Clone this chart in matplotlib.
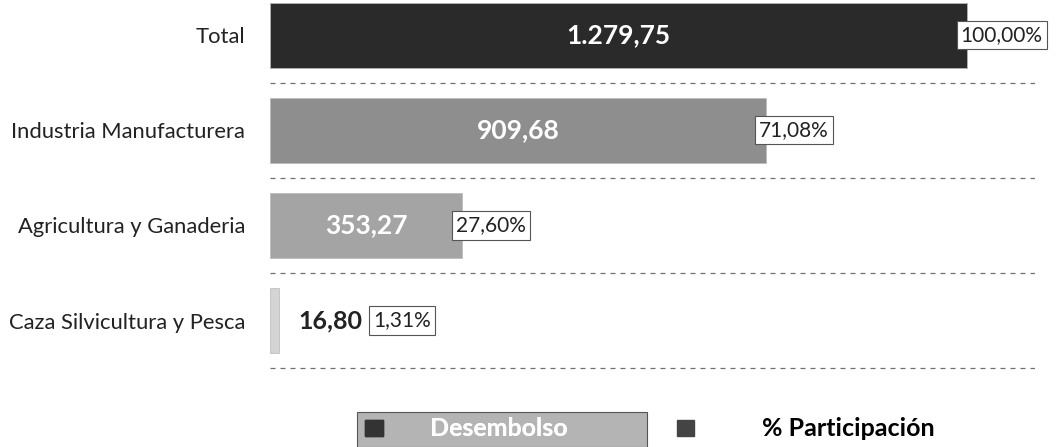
import numpy as np
import matplotlib.pyplot as plt
from matplotlib.patches import Rectangle, Patch

plt.rcParams['font.family'] = ['Lato', 'DejaVu Sans']

# datos
categorias = ['Total', 'Industria Manufacturera', 'Agricultura y Ganaderia', 'Caza Silvicultura y Pesca']
desembolso = [1279.75, 909.68, 353.27, 16.80]
participacion = [100.00, 71.08, 27.60, 1.31]

colores = ['#2a2a2a', '#8e8e8e', '#a4a4a4', '#d4d4d4']

fig = plt.figure(figsize=(10.57, 4.47), dpi=100)
ax = fig.add_axes([270 / 1057, 1 - 370 / 447, 765 / 1057, 370 / 447])

y = np.arange(len(categorias))
ax.barh(y, desembolso, height=0.68, color=colores, edgecolor='#b8b8b8', linewidth=0.5)

ax.set_xlim(0, 1404)
ax.set_ylim(3.52, -0.37)

# lineas punteadas entre categorias
for i in range(len(categorias)):
    ax.axhline(i + 0.5, color='#707070', linestyle=(0, (4, 4)), linewidth=0.9)

for i, (v, p) in enumerate(zip(desembolso, participacion)):
    etiqueta = f'{v:,.2f}'.replace(',', 'X').replace('.', ',').replace('X', '.')
    pct = f'{p:.2f}%'.replace('.', ',')
    if v > 100:
        ax.text(v / 2, i, etiqueta, ha='center', va='center', color='white',
                fontsize=19, fontweight='bold')
        ax.text(v - 12, i, pct, ha='left', va='center', color='#222222', fontsize=15,
                bbox=dict(boxstyle='square,pad=0.2', fc='white', ec='#555555', lw=0.8))
    else:
        ax.text(v + 36, i, etiqueta, ha='left', va='center', color='#222222',
                fontsize=18, fontweight='bold')
        ax.text(v + 172, i, pct, ha='left', va='center', color='#222222', fontsize=15,
                bbox=dict(boxstyle='square,pad=0.2', fc='white', ec='#555555', lw=0.8))

ax.set_yticks(y)
ax.set_yticklabels(categorias, fontsize=15.8, color='#222222')
ax.tick_params(axis='y', length=0, pad=18)
ax.set_xticks([])
for s in ax.spines.values():
    s.set_visible(False)

# leyenda
fig.patches.append(Rectangle((357 / 1057, 0), 290 / 1057, 35 / 447, transform=fig.transFigure,
                             fc='#b4b4b4', ec='#555555', lw=0.8, zorder=0))
leg1 = fig.legend(handles=[Patch(color='#333333', label='Desembolso')],
                  loc='center left', bbox_to_anchor=(365 / 1057, 18 / 447), frameon=False,
                  borderpad=0, borderaxespad=0, handlelength=0.72, handleheight=0.6,
                  handletextpad=1.9, prop=dict(size=18, weight='bold'))
leg1.get_texts()[0].set_color('white')
fig.add_artist(leg1)
leg2 = fig.legend(handles=[Patch(color='#444444', label='% Participación')],
                  loc='center left', bbox_to_anchor=(677 / 1057, 18 / 447), frameon=False,
                  borderpad=0, borderaxespad=0, handlelength=0.66, handleheight=0.6,
                  handletextpad=2.76, prop=dict(size=18, weight='bold'))

fig.savefig('out.png', dpi=100)
